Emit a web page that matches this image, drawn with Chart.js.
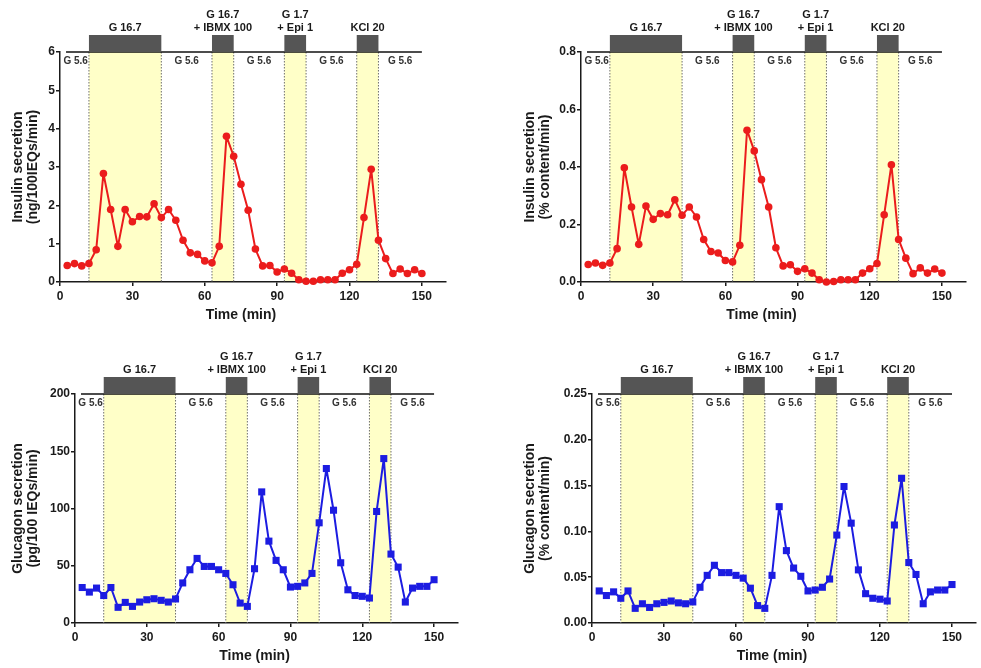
<!DOCTYPE html>
<html>
<head>
<meta charset="utf-8">
<script src="https://cdn.jsdelivr.net/npm/chart.js@4.4.0/dist/chart.umd.min.js"></script>
<style>
body { margin: 0; background: #fff; }
#wrap { position: relative; width: 981px; height: 668px; }
canvas { position: absolute; }
</style>
</head>
<body>
<div id="wrap">
    <canvas id="insNg" width="490" height="330" style="left:0;top:0"></canvas>
    <canvas id="insPct" width="491" height="330" style="left:490px;top:0"></canvas>
    <canvas id="glucPg" width="490" height="338" style="left:0;top:330px"></canvas>
    <canvas id="glucPct" width="491" height="338" style="left:490px;top:330px"></canvas>
</div>
<script>
// sampling times (min)
let times = [3, 6, 9, 12, 15, 18, 21, 24, 27, 30,
    33, 36, 39, 42, 45, 48, 51, 54, 57, 60,
    63, 66, 69, 72, 75, 78, 81, 84, 87, 90,
    93, 96, 99, 102, 105, 108, 111, 114, 117, 120,
    123, 126, 129, 132, 135, 138, 141, 144, 147, 150];

let insulinNg = [0.43, 0.48, 0.42, 0.48, 0.84, 2.83, 1.89, 0.93, 1.89, 1.57,
    1.71, 1.70, 2.04, 1.68, 1.89, 1.61, 1.09, 0.76, 0.72, 0.55,
    0.50, 0.93, 3.80, 3.28, 2.55, 1.87, 0.86, 0.42, 0.43, 0.26,
    0.34, 0.23, 0.06, 0.02, 0.02, 0.06, 0.06, 0.06, 0.23, 0.32,
    0.46, 1.68, 2.94, 1.09, 0.61, 0.22, 0.34, 0.22, 0.32, 0.22];

let insulinPct = [0.061, 0.066, 0.058, 0.066, 0.116, 0.397, 0.261, 0.131, 0.264, 0.218,
    0.238, 0.234, 0.286, 0.232, 0.261, 0.226, 0.148, 0.106, 0.101, 0.075,
    0.070, 0.128, 0.528, 0.456, 0.356, 0.261, 0.119, 0.056, 0.060, 0.037,
    0.046, 0.031, 0.008, 0.000, 0.002, 0.008, 0.008, 0.008, 0.031, 0.046,
    0.064, 0.234, 0.408, 0.148, 0.083, 0.029, 0.049, 0.031, 0.045, 0.031];

let glucagonPg = [31, 27, 30.5, 24, 31, 13.7, 18, 14.5, 18.3, 20.3,
    21.2, 19.8, 18.3, 21, 35, 46.5, 56.4, 49.4, 49.4, 46.5,
    43.3, 33.4, 17.4, 14.5, 47.4, 114.5, 71.5, 54.7, 46.5, 31.4,
    32, 35, 43.3, 87.5, 134.9, 98.5, 52.6, 29, 24, 23.3,
    21.8, 97.4, 143.6, 60.2, 48.8, 18.3, 30.5, 32, 32, 37.8];

let glucagonPct = [0.035, 0.030, 0.034, 0.027, 0.035, 0.016, 0.021, 0.017, 0.021, 0.0225,
    0.024, 0.022, 0.021, 0.023, 0.039, 0.052, 0.063, 0.055, 0.055, 0.052,
    0.049, 0.038, 0.019, 0.016, 0.052, 0.127, 0.079, 0.060, 0.051, 0.035,
    0.036, 0.039, 0.048, 0.096, 0.149, 0.109, 0.058, 0.032, 0.027, 0.026,
    0.024, 0.107, 0.158, 0.066, 0.053, 0.021, 0.034, 0.036, 0.036, 0.042];

let xTicks = [0, 30, 60, 90, 120, 150];
let yTicksInsNg = [0, 1, 2, 3, 4, 5, 6];
let yTicksInsPct = [0, 0.2, 0.4, 0.6, 0.8];
let yTicksGlucPg = [0, 50, 100, 150, 200];
let yTicksGlucPct = [0, 0.05, 0.10, 0.15, 0.20, 0.25];

// stimulation periods (min) and their labels
let periods = [[12, 42], [63, 72], [93, 102], [123, 132]];
let periodLabels = [['G 16.7'], ['G 16.7', '+ IBMX 100'], ['G 1.7', '+ Epi 1'], ['KCl 20']];
let baseLabel = 'G 5.6';
let baseLabelAt = [6.5, 52.5, 82.5, 112.5, 141];
let headerSpan = [2.5, 150];

Chart.defaults.font.family = "'Liberation Sans', Arial, sans-serif";
Chart.defaults.color = '#1a1a1a';

let decor = {
    id: 'decor',
    beforeDatasetsDraw(chart) {
        let ctx = chart.ctx;
        let a = chart.chartArea;
        let x = chart.scales.x;
        ctx.save();
        periods.forEach(p => {
            let x0 = x.getPixelForValue(p[0]);
            let x1 = x.getPixelForValue(p[1]);
            ctx.fillStyle = '#ffffc8';
            ctx.fillRect(x0, a.top, x1 - x0, a.bottom - a.top - 1);
            ctx.strokeStyle = '#6f6f6f';
            ctx.lineWidth = 1;
            ctx.setLineDash([1.5, 1.5]);
            [x0, x1].forEach(px => {
                ctx.beginPath();
                ctx.moveTo(px, a.top);
                ctx.lineTo(px, a.bottom);
                ctx.stroke();
            });
        });
        ctx.restore();
    },
    afterDraw(chart) {
        let ctx = chart.ctx;
        let a = chart.chartArea;
        let x = chart.scales.x;
        ctx.save();
        // header line
        ctx.strokeStyle = '#111';
        ctx.lineWidth = 1.5;
        ctx.beginPath();
        ctx.moveTo(x.getPixelForValue(headerSpan[0]), a.top);
        ctx.lineTo(x.getPixelForValue(headerSpan[1]), a.top);
        ctx.stroke();
        // grey bars + labels
        ctx.textAlign = 'center';
        ctx.textBaseline = 'middle';
        periods.forEach((p, i) => {
            let x0 = x.getPixelForValue(p[0]);
            let x1 = x.getPixelForValue(p[1]);
            ctx.fillStyle = '#555';
            ctx.fillRect(x0, a.top - 17, x1 - x0, 17);
            ctx.fillStyle = '#1a1a1a';
            ctx.font = "bold 11px 'Liberation Sans', Arial, sans-serif";
            let lines = periodLabels[i];
            lines.forEach((t, j) => {
                let y = a.top - 24 - (lines.length - 1 - j) * 12.7;
                ctx.fillText(t, (x0 + x1) / 2, y);
            });
        });
        ctx.font = "bold 10px 'Liberation Sans', Arial, sans-serif";
        ctx.fillStyle = '#333';
        baseLabelAt.forEach(v => {
            ctx.fillText(baseLabel, x.getPixelForValue(v), a.top + 9);
        });
        // x axis title
        ctx.font = "bold 14px 'Liberation Sans', Arial, sans-serif";
        ctx.fillStyle = '#1a1a1a';
        ctx.fillText('Time (min)', x.getPixelForValue(75), a.bottom + 33);
        ctx.restore();
    }
};

function makePanel(id, values, yTicks, yTitle, digits, look, area, titlePad) {
    let canvas = document.getElementById(id);
    let w = canvas.width, h = canvas.height;
    return new Chart(canvas, {
        type: 'line',
        data: {
            datasets: [{
                data: times.map((t, i) => ({ x: t, y: values[i] })),
                borderColor: look.color,
                backgroundColor: look.color,
                borderWidth: 2,
                borderJoinStyle: 'round',
                pointStyle: look.point,
                pointRadius: look.radius,
                pointBorderWidth: 0,
                tension: 0,
                clip: false
            }]
        },
        options: {
            responsive: false,
            animation: false,
            devicePixelRatio: 1,
            layout: { padding: { left: 0, top: area.t, right: w - area.r, bottom: 0 } },
            plugins: { legend: { display: false }, tooltip: { enabled: false } },
            scales: {
                x: {
                    type: 'linear',
                    min: 0,
                    max: 160,
                    afterBuildTicks: s => { s.ticks = xTicks.map(v => ({ value: v })); },
                    afterFit: s => { s.height = h - area.b; },
                    grid: { drawOnChartArea: false, drawTicks: true, tickLength: 4, color: '#1a1a1a', lineWidth: 1.5 },
                    border: { color: '#1a1a1a', width: 1.5 },
                    ticks: { font: { size: 12, weight: 'bold' }, color: '#1a1a1a', padding: 3 },
                    title: { display: false }
                },
                y: {
                    min: yTicks[0],
                    max: yTicks[yTicks.length - 1],
                    afterBuildTicks: s => { s.ticks = yTicks.map(v => ({ value: v })); },
                    afterFit: s => { s.width = area.l; },
                    grid: { drawOnChartArea: false, drawTicks: true, tickLength: 4, color: '#1a1a1a', lineWidth: 1.5 },
                    border: { color: '#1a1a1a', width: 1.5 },
                    ticks: {
                        font: { size: 12, weight: 'bold' },
                        color: '#1a1a1a',
                        padding: 1,
                        callback: v => Number(v).toFixed(digits)
                    },
                    title: {
                        display: true,
                        text: yTitle,
                        font: { size: 14, weight: 'bold', lineHeight: 1.1 },
                        color: '#1a1a1a',
                        padding: { top: titlePad, bottom: 0 }
                    }
                }
            }
        },
        plugins: [decor]
    });
}

let red = { color: 'rgb(235,28,28)', point: 'circle', radius: 3.8 };
let blue = { color: 'rgb(28,28,225)', point: 'rect', radius: 5 };

makePanel('insNg', insulinNg, yTicksInsNg, ['Insulin secretion', '(ng/100IEQs/min)'], 0, red,
    { l: 60, r: 446, t: 52, b: 282 }, 10);
makePanel('insPct', insulinPct, yTicksInsPct, ['Insulin secretion', '(% content/min)'], 1, red,
    { l: 91, r: 476, t: 52, b: 282 }, 32);
makePanel('glucPg', glucagonPg, yTicksGlucPg, ['Glucagon secretion', '(pg/100 IEQs/min)'], 0, blue,
    { l: 75, r: 458, t: 64, b: 293 }, 10);
makePanel('glucPct', glucagonPct, yTicksGlucPct, ['Glucagon secretion', '(% content/min)'], 2, blue,
    { l: 102, r: 486, t: 64, b: 293 }, 32);
</script>
</body>
</html>
